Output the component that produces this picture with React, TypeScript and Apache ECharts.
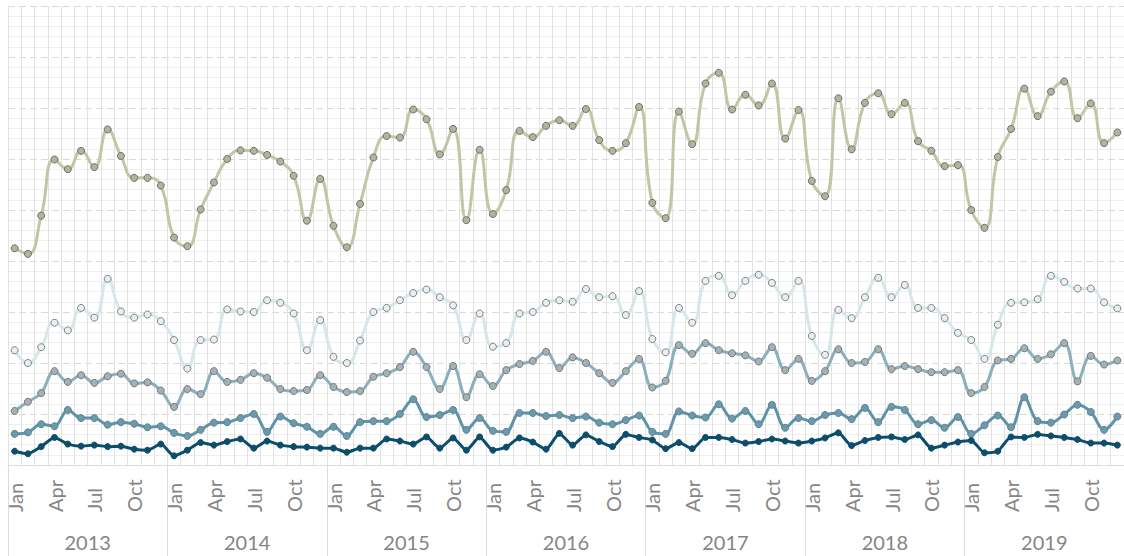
import React, { useEffect, useRef } from "react";
import * as echarts from "echarts";

const years = ["2013", "2014", "2015", "2016", "2017", "2018", "2019"];
const months = ["Jan", "Feb", "Mar", "Apr", "May", "Jun", "Jul", "Aug", "Sep", "Oct", "Nov", "Dec"];
const categories = years.flatMap((y) => months.map((m) => `${m} ${y}`));

const seriesKhaki = [
  42.5, 41.4, 48.9, 59.9, 58.0, 61.6, 58.4, 65.8, 60.6, 56.3, 56.3, 54.8,
  44.6, 42.9, 50.1, 55.4, 60.0, 61.7, 61.6, 60.8, 59.5, 56.7, 47.9, 56.1,
  46.9, 42.7, 51.2, 60.3, 64.5, 64.2, 69.7, 67.8, 60.9, 65.9, 48.0, 61.8,
  49.2, 53.9, 65.5, 64.3, 66.5, 67.6, 66.5, 69.8, 63.7, 61.6, 63.1, 70.2,
  51.4, 48.4, 69.3, 62.9, 74.8, 76.9, 69.7, 72.6, 70.5, 74.8, 64.0, 69.6,
  55.7, 52.7, 71.9, 61.9, 71.0, 72.9, 68.8, 71.0, 63.5, 61.6, 58.6, 58.8,
  50.0, 46.5, 60.4, 65.9, 73.8, 68.4, 73.2, 75.2, 68.0, 70.9, 63.1, 65.2,
];
const seriesLightBlue = [
  22.5, 20.0, 23.1, 27.9, 26.4, 30.8, 28.9, 36.5, 30.1, 28.9, 29.5, 28.2,
  24.5, 18.9, 24.5, 24.6, 30.5, 30.1, 30.0, 32.3, 31.8, 29.7, 22.5, 28.4,
  21.2, 20.0, 24.4, 30.0, 30.8, 32.3, 33.7, 34.4, 32.9, 31.3, 24.5, 29.7,
  23.2, 23.9, 29.7, 30.0, 31.8, 32.3, 32.0, 34.5, 32.9, 33.1, 29.4, 34.1,
  24.7, 22.1, 30.8, 27.9, 36.1, 37.1, 33.3, 36.1, 37.3, 35.7, 32.9, 36.1,
  25.3, 21.6, 30.4, 28.8, 32.9, 36.7, 32.9, 35.3, 30.8, 30.8, 28.8, 25.9,
  24.5, 20.8, 27.5, 31.8, 31.9, 32.5, 37.1, 35.9, 34.6, 34.6, 31.9, 30.7,
];
const seriesSteel = [
  10.6, 12.4, 14.1, 18.4, 16.3, 17.6, 16.1, 17.4, 17.9, 16.0, 16.2, 14.6,
  11.4, 14.9, 13.9, 18.4, 16.3, 16.7, 18.0, 17.1, 14.9, 14.5, 14.7, 17.6,
  15.3, 14.3, 14.5, 17.3, 18.0, 19.2, 22.2, 19.2, 14.9, 19.4, 13.3, 17.8,
  15.5, 18.6, 19.8, 20.4, 22.2, 19.0, 21.1, 20.0, 18.0, 16.1, 18.4, 20.8,
  15.2, 16.5, 23.5, 21.8, 23.9, 22.5, 21.9, 21.5, 20.3, 23.1, 18.6, 20.8,
  16.5, 18.4, 22.7, 20.0, 20.2, 22.7, 18.8, 19.4, 18.8, 18.2, 18.2, 18.6,
  14.1, 15.3, 20.5, 20.8, 22.9, 20.8, 21.7, 23.9, 16.4, 21.4, 19.7, 20.5,
];
const seriesTeal = [
  6.1, 6.4, 8.0, 7.6, 10.8, 9.2, 9.2, 7.9, 8.4, 8.1, 7.4, 7.6,
  6.3, 5.7, 6.9, 8.3, 8.4, 9.2, 10.0, 6.5, 9.5, 8.2, 7.5, 6.1,
  7.5, 5.7, 8.4, 8.6, 8.6, 10.0, 12.9, 9.4, 9.8, 10.8, 6.9, 9.2,
  6.7, 6.5, 10.2, 10.2, 9.6, 9.8, 9.2, 9.5, 8.3, 8.0, 8.8, 9.7,
  6.5, 6.1, 10.5, 9.7, 9.3, 11.9, 9.1, 10.6, 8.0, 11.8, 7.3, 9.2,
  8.6, 9.8, 10.2, 9.0, 11.2, 8.4, 11.4, 10.8, 8.0, 8.8, 7.3, 9.4,
  6.1, 7.8, 9.7, 7.4, 13.3, 8.6, 8.3, 9.9, 11.8, 10.4, 6.9, 9.5,
];
const seriesNavy = [
  2.7, 2.2, 3.6, 5.4, 4.1, 3.7, 3.9, 3.6, 3.7, 3.1, 2.9, 4.1,
  1.8, 2.9, 4.4, 3.9, 4.6, 5.1, 3.3, 4.7, 3.9, 3.6, 3.5, 3.3,
  3.3, 2.5, 3.3, 3.3, 5.1, 4.7, 4.1, 5.5, 3.3, 5.3, 2.9, 5.5,
  2.9, 3.5, 5.3, 4.5, 3.1, 6.2, 3.9, 5.9, 4.6, 3.6, 6.0, 5.4,
  4.9, 3.2, 4.4, 3.2, 5.4, 5.4, 5.0, 4.3, 4.6, 5.1, 4.7, 4.3,
  4.7, 5.3, 6.3, 3.8, 4.8, 5.4, 5.5, 5.0, 5.9, 3.3, 3.9, 4.5,
  4.8, 2.4, 2.7, 5.5, 5.4, 6.0, 5.7, 5.4, 5.0, 4.3, 4.3, 3.9,
];

const FONT = "Lato, 'Noto Sans', sans-serif";
const LABEL_COLOR = "#858585";

function lineSeries(name: string, data: number[], line: string, fill: string, border: string, smooth: number, size: number) {
  return {
    name,
    type: "line",
    data,
    smooth,
    symbol: "circle",
    symbolSize: size,
    showSymbol: true,
    lineStyle: { color: line, width: 3 },
    itemStyle: { color: fill, borderColor: border, borderWidth: 1 },
    emphasis: { disabled: true },
  };
}

export default function App() {
  const ref = useRef<HTMLDivElement>(null);
  useEffect(() => {
    if (!ref.current) return;
    const chart = echarts.init(ref.current, null, { renderer: "svg" });
    chart.setOption({
      animation: false,
      backgroundColor: "#ffffff",
      grid: { left: 8, right: 0, top: 6, bottom: 91, containLabel: false },
      xAxis: [
        {
          type: "category",
          data: categories,
          boundaryGap: true,
          position: "bottom",
          axisLine: { show: true, lineStyle: { color: "#dcdcdc", width: 1 } },
          axisTick: { show: false },
          splitLine: { show: true, interval: 0, lineStyle: { color: "#e2e2e2", width: 1 } },
          axisLabel: {
            interval: (i: number) => i % 3 === 0,
            formatter: (v: string) => v.split(" ")[0],
            rotate: 90,
            align: "left",
            verticalAlign: "middle",
            margin: 47,
            color: LABEL_COLOR,
            fontSize: 20,
            fontFamily: FONT,
          },
        },
        {
          type: "category",
          data: years,
          boundaryGap: true,
          position: "bottom",
          axisLine: { show: false },
          axisTick: { show: true, interval: 0, length: 91, lineStyle: { color: "#dcdcdc", width: 1 } },
          splitLine: { show: false },
          axisLabel: {
            interval: 0,
            margin: 77,
            verticalAlign: "middle",
            color: LABEL_COLOR,
            fontSize: 20,
            fontFamily: FONT,
          },
        },
      ],
      yAxis: {
        type: "value",
        min: 0,
        max: 90,
        interval: 10,
        axisLine: { show: false },
        axisTick: { show: false },
        axisLabel: { show: false },
        splitLine: { show: true, lineStyle: { color: "#d9d9d9", width: 1, type: [7, 4] } },
        minorTick: { show: false, splitNumber: 5 },
        minorSplitLine: { show: true, lineStyle: { color: "#efefef", width: 1 } },
      },
      series: [
        lineSeries("A", seriesKhaki, "#c3c5a5", "#b2b49c", "#6e6e6e", 0.5, 7),
        lineSeries("B", seriesLightBlue, "#d6e7eb", "#e9eff1", "#808080", 0.5, 7),
        lineSeries("C", seriesSteel, "#8aafbd", "#a3b2b8", "#777777", 0.4, 7),
        lineSeries("D", seriesTeal, "#5f94a8", "#6c9aac", "#5b8394", 0.35, 7),
        lineSeries("E", seriesNavy, "#0c4d6b", "#0c4d6b", "#0c4d6b", 0.2, 6),
      ],
    });
    return () => chart.dispose();
  }, []);
  return (
    <div
      ref={ref}
      style={{ position: "absolute", left: 0, top: 0, width: 1124, height: 556 }}
    />
  );
}
